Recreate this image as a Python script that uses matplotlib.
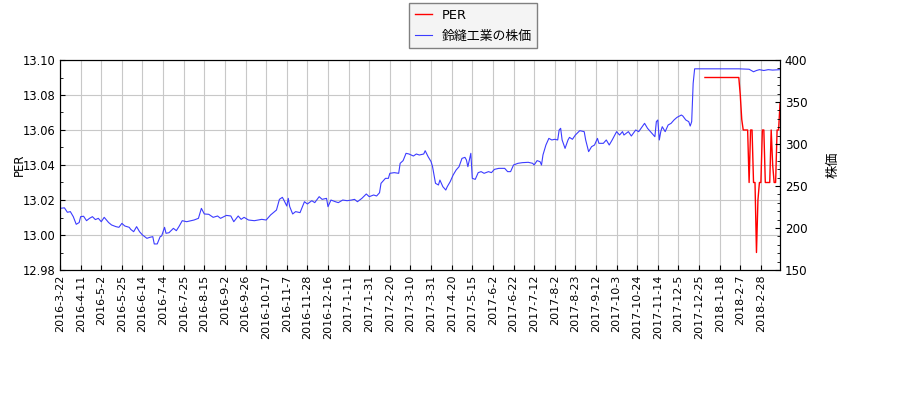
import matplotlib
matplotlib.use('Agg')
import matplotlib.pyplot as plt
from matplotlib.ticker import MultipleLocator

plt.rcParams['font.family'] = ['DejaVu Sans', 'Noto Sans CJK JP']

# trading-day labels, one every 14 trading days
tick_labels = ['2016-3-22', '2016-4-11', '2016-5-2', '2016-5-25', '2016-6-14', '2016-7-4',
               '2016-7-25', '2016-8-15', '2016-9-2', '2016-9-26', '2016-10-17', '2016-11-7',
               '2016-11-28', '2016-12-16', '2017-1-11', '2017-1-31', '2017-2-20', '2017-3-10',
               '2017-3-31', '2017-4-20', '2017-5-15', '2017-6-2', '2017-6-22', '2017-7-12',
               '2017-8-2', '2017-8-23', '2017-9-12', '2017-10-3', '2017-10-24', '2017-11-14',
               '2017-12-5', '2017-12-25', '2018-1-18', '2018-2-7', '2018-2-28']
tick_step = 14
last_day = 489

# share price (trading-day number, yen)
price_day = [0, 3, 5, 7, 9, 11, 13, 14, 16, 18, 20, 22, 24, 26, 28, 30, 33, 35, 38, 40,
             42, 44, 47, 48, 50, 52, 54, 56, 59, 61, 63, 64, 66, 68, 69, 71, 72, 74, 77, 79,
             81, 83, 86, 89, 91, 94, 96, 98, 101, 104, 107, 109, 113, 116, 118, 121, 123, 125, 128, 132,
             137, 140, 143, 147, 149, 151, 152, 154, 155, 156, 158, 160, 163, 166,
             168, 171, 173, 176, 178, 181, 182, 184, 187, 189, 192, 195, 198, 200, 202, 205,
             208, 210, 213, 215, 217, 218, 221, 223, 224, 227, 230, 231, 233, 235, 237, 240,
             242, 244, 247, 248, 250, 252, 253, 255, 257, 258, 260, 262, 263, 265, 267, 269,
             271, 273, 275, 276, 277, 278, 279, 280, 282, 284, 286, 288, 291, 293, 295, 298,
             302, 304, 306, 308, 311, 314, 318, 321, 322, 324, 326, 327,
             328, 330, 332, 334, 336, 338, 339, 340, 341, 343, 345, 346, 348, 350, 353, 356,
             357, 359, 361, 363, 365, 366, 369, 371, 373, 375, 378, 380, 382, 383, 386, 388,
             391, 393, 397, 399, 401, 404, 405, 406, 407, 408, 409, 411, 413, 415, 417, 419,
             422, 423, 425, 427, 428, 429, 430, 431, 461,
             464, 468, 471, 473, 475, 478, 481, 484, 489]
price_val = [223.4, 224, 218.7, 219.5, 213.5, 204.4, 206.5, 213.5, 214, 208.7, 211.5, 213.5, 210, 211.5, 207.5, 212.7, 206.5, 203.6, 201.6, 200.8,
             205.5, 202.4, 200.8, 198.4, 195.6, 201.6, 195.6, 191.7, 187.7, 188.9, 189.7, 181, 181, 189.7, 190.5, 200.8, 193.7, 194.4, 199.6, 196.8,
             202.4, 208.7, 207.5, 208.7, 209.5, 211.5, 223.4, 216.7, 216.3, 212.7, 214.3, 211.5, 215, 214.3, 207.5, 214.3, 210.3, 212.7, 209.5, 208.7,
             210.3, 209.5, 215.5, 221.4, 234.1, 236.5, 233.3, 226.2, 235.3, 225.4, 216.7, 219.5, 218.3, 231.3,
             228.6, 232.5, 230.2, 237.3, 234.1, 235.3, 225.4, 233.3, 231.3, 230.2, 233.3, 232.5, 233.3, 234.1, 231.3, 235.3,
             240.5, 237.3, 239.3, 238.1, 242, 253.2, 259.1, 259.1, 265.1, 265.9, 265.1, 277, 280.2, 288.9, 288.1, 285.7,
             288.1, 286.9, 288.1, 292, 284.9, 279, 273, 253.2, 251.2, 257.1, 249.2, 245.2, 249.2, 255.2, 263.1, 269,
             273, 282.9, 284.1, 281, 273, 281, 288.9, 259.1, 257.9, 265.9, 267.1, 265.1, 267.1, 265.9, 269.8, 271,
             271, 267.1, 267.1, 275, 277, 277.8, 278.2, 277, 275, 280.2, 279, 275,
             287, 298.8, 306.7, 304.8, 305.6, 304.8, 316.7, 318.7, 304.8, 294.8, 304.8, 307.9, 305.6, 310.7, 315.9, 314.7,
             304.8, 290.9, 296.8, 298.8, 306.7, 300.8, 300.8, 304.8, 298.8, 304.8, 314.7, 310.7, 314.7, 310.7, 314.7, 309.5,
             316.7, 314.7, 324.6, 318.7, 314.7, 308.7, 326.6, 328.6, 304.8, 314.7, 320.6, 314.7, 322.6, 324.6, 328.6, 331.7,
             334.5, 333.3, 328.6, 326.6, 321.4, 326.6, 372.2, 389.5, 389.5,
             389.3, 389, 386, 387.5, 388.5, 387.5, 388.5, 388, 388.5]

# PER (trading-day number, value)
per_day = [438, 461, 462, 463, 464, 465, 466, 467, 468, 469, 470, 471, 472, 473, 474, 475,
           476, 477, 478, 479, 480, 481, 482, 483, 484, 485, 486, 487, 488, 489]
per_val = [13.09, 13.09, 13.08, 13.066, 13.06, 13.06, 13.06, 13.06, 13.03, 13.06, 13.06, 13.03,
           13.03, 12.99, 13.02, 13.03, 13.03, 13.06, 13.06, 13.03, 13.03, 13.03, 13.03, 13.06,
           13.04, 13.03, 13.03, 13.06, 13.06, 13.075]

fig = plt.figure(figsize=(9, 4), dpi=100)
ax1 = fig.add_axes([0.0667, 0.325, 0.8, 0.525])
ax2 = ax1.twinx()

ln1 = ax1.plot(per_day, per_val, color='red', linewidth=1.0, label='PER')
ln2 = ax2.plot(price_day, price_val, color='#3c3cff', linewidth=0.8, label='鈴縫工業の株価')

ax1.set_xlim(0, last_day)
ax1.set_ylim(12.98, 13.10)
ax2.set_ylim(150, 400)

ax1.set_xticks(range(0, tick_step * len(tick_labels), tick_step))
ax1.set_xticklabels(tick_labels, rotation=90, fontsize=8)
ax1.yaxis.set_major_locator(MultipleLocator(0.02))
ax1.yaxis.set_minor_locator(MultipleLocator(0.01))
ax1.yaxis.set_major_formatter(plt.FormatStrFormatter('%.2f'))
ax2.yaxis.set_major_locator(MultipleLocator(50))
ax2.yaxis.set_minor_locator(MultipleLocator(10))

ax1.tick_params(axis='both', which='both', direction='in')
ax2.tick_params(axis='y', which='both', direction='in')
ax1.tick_params(axis='y', labelsize=8.3)
ax2.tick_params(axis='y', labelsize=8.6)

ax1.grid(True, color='#c8c8c8', linewidth=0.8)
ax1.set_axisbelow(True)

ax1.set_ylabel('PER', fontsize=8.5)
ax1.yaxis.set_label_coords(-0.048, 0.5)
ax2.set_ylabel('株価', fontsize=9.5, family=['Noto Sans CJK JP'], labelpad=14)

lines = ln1 + ln2
labels = [l.get_label() for l in lines]
leg = fig.legend(lines, labels, loc='upper left', bbox_to_anchor=(0.4544, 0.9925),
                 borderaxespad=0, fancybox=False, edgecolor='#808080', facecolor='#f4f4f4',
                 framealpha=1.0, prop={'family': ['DejaVu Sans', 'Noto Sans CJK JP'], 'size': 9.3},
                 borderpad=0.45, handlelength=1.3, handletextpad=0.75, labelspacing=0.6)

plt.savefig('out.png', dpi=100)
plt.close()
